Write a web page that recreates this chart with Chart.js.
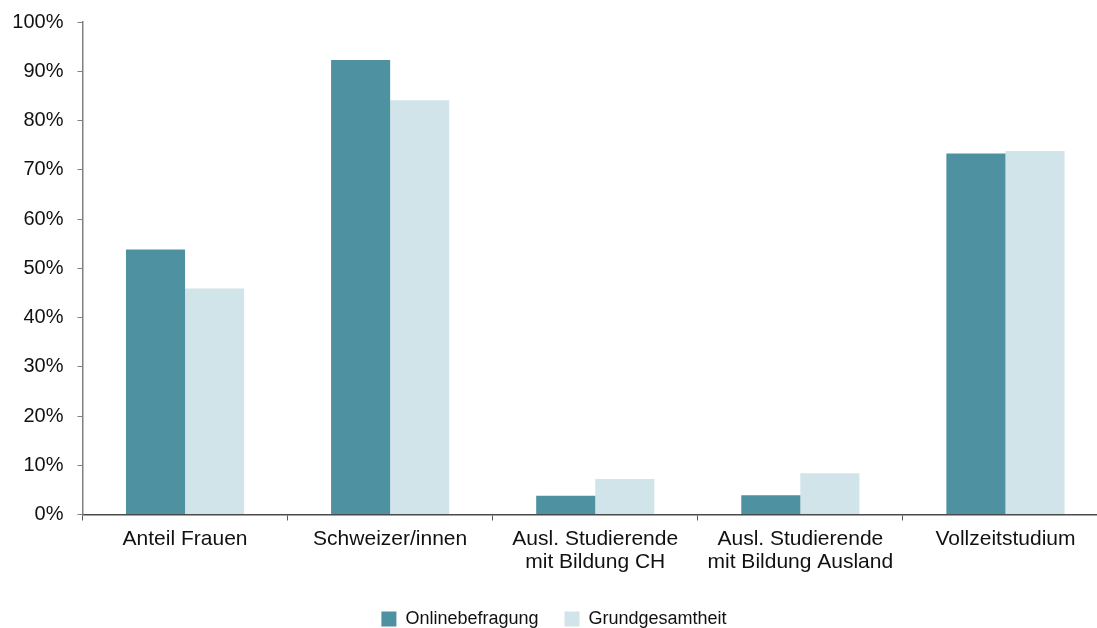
<!DOCTYPE html>
<html>
<head>
<meta charset="utf-8">
<script src="https://cdn.jsdelivr.net/npm/chart.js@4.4.0/dist/chart.umd.min.js"></script>
<style>
  html, body { margin: 0; padding: 0; background: #fff; overflow: hidden; }
  #wrap { position: relative; width: 1108px; height: 640px; }
</style>
</head>
<body>
<div id="wrap"><canvas id="grafica"></canvas></div>
<script>
// categorias y valores (en %)
const categorias = [
    'Anteil Frauen',
    'Schweizer/innen',
    ['Ausl. Studierende', 'mit Bildung CH'],
    ['Ausl. Studierende', 'mit Bildung Ausland'],
    'Vollzeitstudium'
];
const onlinebefragung = [53.8, 92.3, 3.8, 3.9, 73.3];
const grundgesamtheit = [45.9, 84.1, 7.2, 8.4, 73.8];
const yTicks = [0, 10, 20, 30, 40, 50, 60, 70, 80, 90, 100];

const fontLabel = "'Liberation Sans', Arial, sans-serif";

const ctx = document.getElementById('grafica').getContext('2d');

new Chart(ctx, {
    type: 'bar',
    data: {
        labels: categorias,
        datasets: [
            {
                label: 'Onlinebefragung',
                data: onlinebefragung,
                backgroundColor: '#4e91a0',
                borderWidth: 0
            },
            {
                label: 'Grundgesamtheit',
                data: grundgesamtheit,
                backgroundColor: '#d0e4e9',
                borderWidth: 0
            }
        ]
    },
    options: {
        responsive: true,
        maintainAspectRatio: false,
        animation: false,
        layout: { padding: { top: 22, left: 0, right: 0, bottom: 2 } },
        datasets: {
            bar: { categoryPercentage: 0.576, barPercentage: 1 }
        },
        plugins: {
            tooltip: { enabled: false },
            legend: {
                position: 'bottom',
                labels: {
                    font: { family: fontLabel, size: 18 },
                    color: '#111',
                    boxWidth: 15,
                    boxHeight: 15,
                    padding: 26
                }
            }
        },
        scales: {
            x: {
                afterFit: (scale) => { scale.height = 69.5; },
                grid: {
                    display: true,
                    drawOnChartArea: false,
                    tickLength: 6,
                    color: '#595959',
                    offset: true
                },
                border: { color: '#4a4a4a', width: 1.5 },
                ticks: {
                    color: '#111',
                    padding: 7,
                    maxRotation: 0,
                    autoSkip: false,
                    font: { family: fontLabel, size: 21, lineHeight: 1.1 }
                }
            },
            y: {
                min: 0,
                max: 100,
                afterFit: (scale) => { scale.width = 82.5; },
                afterBuildTicks: (scale) => { scale.ticks = yTicks.map(v => ({ value: v })); },
                grid: {
                    display: true,
                    drawOnChartArea: false,
                    tickLength: 5,
                    color: '#808080'
                },
                border: { color: '#808080', width: 1.5 },
                ticks: {
                    color: '#111',
                    padding: 14,
                    font: { family: fontLabel, size: 20, lineHeight: 0.8 },
                    callback: (v) => v + '%'
                }
            }
        }
    }
});
</script>
</body>
</html>
